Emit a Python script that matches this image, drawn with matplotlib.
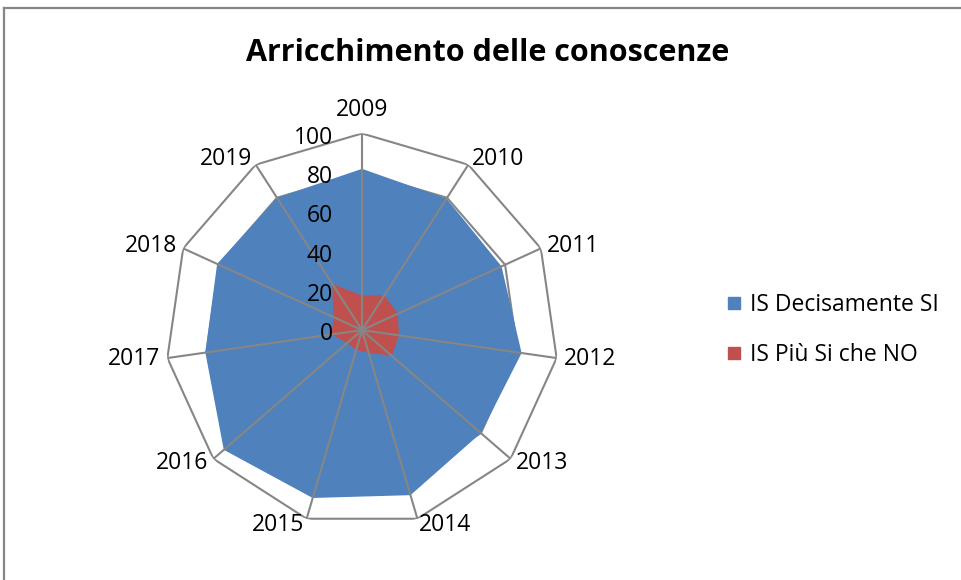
import numpy as np
import matplotlib
matplotlib.use("Agg")
import matplotlib.pyplot as plt
from matplotlib.lines import Line2D

# dati
anni = ["2009", "2010", "2011", "2012", "2013", "2014",
        "2015", "2016", "2017", "2018", "2019"]
decisamente_si = [82, 79.5, 78, 82, 80, 87.5, 89, 93, 80.5, 81, 80]
piu_si_che_no = [17.5, 21, 20, 19, 20, 12, 10.5, 10, 15.5, 16, 28]
ticks = [0, 20, 40, 60, 80, 100]
serie = ["IS Decisamente SI", "IS Più Si che NO"]

blu = "#4F81BD"
rosso = "#C0504D"
grigio = "#868686"

plt.rcParams["font.family"] = ["Open Sans", "DejaVu Sans"]

fig = plt.figure(figsize=(9.61, 5.8), dpi=100)

# cornice (solo lato sinistro e superiore visibili)
fig.add_artist(Line2D([4 / 961, 4 / 961], [-0.1, 1 - 8 / 580], transform=fig.transFigure,
                      color=grigio, lw=1.6))
fig.add_artist(Line2D([4 / 961, 1.1], [1 - 8 / 580, 1 - 8 / 580], transform=fig.transFigure,
                      color=grigio, lw=1.6))

fig.text(488 / 961, 1 - 53 / 580, "Arricchimento delle conoscenze",
         ha="center", va="center", fontsize=22, fontweight="bold")

ax = fig.add_axes([0.172, 0.0919, 0.4094, 0.678], projection="polar")
ax.set_theta_zero_location("N")
ax.set_theta_direction(-1)
ax.set_ylim(0, 100)
ax.axis("off")

n = len(anni)
theta = np.arange(n) * 2 * np.pi / n
theta_c = np.append(theta, theta[0])

# anelli della griglia (dietro le aree)
for t in ticks[1:]:
    ax.plot(theta_c, [t] * (n + 1), color=grigio, lw=1.5, zorder=1)

ax.fill(theta_c, decisamente_si + decisamente_si[:1], color=blu, lw=0, zorder=2)
ax.fill(theta_c, piu_si_che_no + piu_si_che_no[:1], color=rosso, lw=0, zorder=2.1)

# raggi sopra le aree
for t in theta:
    ax.plot([t, t], [0, 100], color=grigio, lw=1.5, zorder=3)

# etichette categorie
for t, a in zip(theta, anni):
    s, c = np.sin(t), np.cos(t)
    if abs(s) < 1e-6:
        ax.annotate(a, (t, 100), xytext=(0, 8), textcoords="offset points",
                    ha="center", va="bottom", fontsize=16.5)
    else:
        ax.annotate(a, (t, 100), xytext=(5 * s, 5 * c), textcoords="offset points",
                    ha="left" if s > 0 else "right", va="center", fontsize=16.5)

# etichette asse valori
for v in ticks:
    ax.annotate(str(v), (0, v), xytext=(-21, -3), textcoords="offset points",
                ha="right", va="center", fontsize=16.5)

handles = [Line2D([], [], marker="s", ls="", color=blu, markersize=9),
           Line2D([], [], marker="s", ls="", color=rosso, markersize=9)]
fig.legend(handles, serie, loc="center left", bbox_to_anchor=(727 / 961, 1 - 330 / 580),
           frameon=False, fontsize=16.5, handlelength=0.6, handletextpad=0.4,
           labelspacing=1.1, borderpad=0, borderaxespad=0)

fig.savefig("out.png", dpi=100)
